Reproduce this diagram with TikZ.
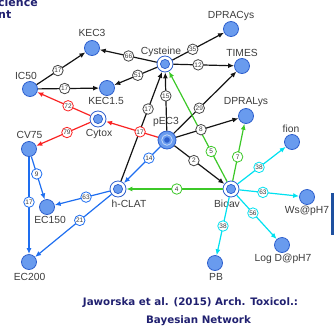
\documentclass[tikz,border=0pt]{standalone}
\usepackage{fontspec}
\setmainfont{Liberation Sans}
\newfontfamily\footfont{DejaVu Sans}
\usetikzlibrary{arrows.meta,calc}
\definecolor{nfill}{RGB}{105,155,238}
\definecolor{nborder}{RGB}{45,95,205}
\definecolor{ered}{RGB}{250,35,35}
\definecolor{eblue}{RGB}{30,110,240}
\definecolor{egreen}{RGB}{60,200,40}
\definecolor{ecyan}{RGB}{0,225,240}
\definecolor{eblack}{RGB}{20,20,20}
\definecolor{lgray}{RGB}{70,70,70}
\definecolor{txt}{RGB}{60,60,60}
\definecolor{navy}{RGB}{32,32,112}
\definecolor{barblue}{RGB}{30,80,160}
\begin{document}
\begin{tikzpicture}[x=1pt,y=-1pt,
 plain/.style={circle, draw=nborder, fill=nfill, line width=0.8pt, minimum size=15pt, inner sep=0pt},
 dbl/.style={circle, draw=nborder, fill=white, line width=0.8pt, minimum size=16pt, inner sep=0pt,
   path picture={\draw[nborder, fill=nfill, line width=0.7pt] (path picture bounding box.center) circle (4.6pt);}},
 tri/.style={circle, draw=nborder, fill=nfill, line width=0.8pt, minimum size=18pt, inner sep=0pt,
   path picture={\draw[white!60!nfill, line width=0.8pt] (path picture bounding box.center) circle (5.3pt);
                 \fill[nborder] (path picture bounding box.center) circle (2.8pt);}},
 nlab/.style={text=txt, font=\fontsize{10.3}{12}\selectfont, inner sep=0pt},
 arr/.style={line width=1.2pt, -{Latex[length=6pt,width=5pt]}},
 lbl/.style={circle, fill=white, line width=0.8pt, minimum size=10.5pt, inner sep=0pt, text=txt, font=\fontsize{6.5}{7}\selectfont},
 foot/.style={text=navy, font=\footfont\bfseries\fontsize{10.3}{12}\selectfont, inner sep=0pt},
]
\useasboundingbox (0,0) rectangle (334,327);

% nodes
\node[plain] (kec3) at (92,48) {};
\node[plain] (ic50) at (30,89) {};
\node[plain] (kec15) at (107,88) {};
\node[dbl] (cys) at (165,64) {};
\node[plain] (dpracys) at (231,29) {};
\node[plain] (times) at (242,66) {};
\node[plain] (depralys) at (246,116) {};
\node[tri] (pec3) at (167,140) {};
\node[dbl] (cytox) at (98,119) {};
\node[plain] (cv75) at (29,149) {};
\node[plain] (ec150) at (47,207) {};
\node[dbl] (hclat) at (118,189) {};
\node[plain] (ec200) at (29,262) {};
\node[dbl] (bioav) at (231,189) {};
\node[plain] (fion) at (292,142) {};
\node[plain] (ws) at (307,197) {};
\node[plain] (logd) at (282,245) {};
\node[plain] (pb) at (215,263) {};

% node labels
\node[nlab] (lkec3) at (92,33) {KEC3};
\node[nlab] (lic50) at (26,76) {IC50};
\node[nlab] (lkec15) at (106,101) {KEC1.5};
\node[nlab] (lcys) at (161,52) {Cysteine};
\node[nlab] (ldpracys) at (231,15.5) {DPRACys};
\node[nlab] (ltimes) at (242,53) {TIMES};
\node[nlab] (ldpralys) at (246,102) {DPRALys};
\node[nlab] (lpec3) at (166,122) {pEC3};
\node[nlab] (lcytox) at (99,133.5) {Cytox};
\node[nlab] (lcv75) at (29.5,135) {CV75};
\node[nlab] (lec150) at (50,220) {EC150};
\node[nlab] (lhclat) at (129,203.5) {h-CLAT};
\node[nlab] (lec200) at (29.5,277) {EC200};
\node[nlab] (lbioav) at (227,204) {Bioav};
\node[nlab] (lfion) at (291,129) {fion};
\node[nlab] (lws) at (307,211) {Ws@pH7};
\node[nlab] (llogd) at (283,259) {Log D@pH7};
\node[nlab] (lpb) at (216,277) {PB};

% edges
\draw[arr,eblack] (ic50) -- (kec3);
\draw[arr,eblack] (ic50) -- (kec15);
\draw[arr,eblack] (cys) -- (kec3);
\draw[arr,eblack] (cys) -- (kec15);
\draw[arr,eblack] (cys) -- (dpracys);
\draw[arr,eblack] (cys) -- (times);
\draw[arr,eblack] (pec3) -- (cys);
\draw[arr,eblack] (hclat) -- (cys);
\draw[arr,eblack] (pec3) -- (times);
\draw[arr,eblack] (pec3) -- (depralys);
\draw[arr,eblack] (pec3) -- (bioav);
\draw[arr,ered] (pec3) -- (cytox);
\draw[arr,ered] (cytox) -- (ic50);
\draw[arr,ered] (cytox) -- (cv75);
\draw[arr,eblue] (pec3) -- (hclat);
\draw[arr,eblue] (cv75) -- (ec150);
\draw[arr,eblue] (cv75) -- (ec200);
\draw[arr,eblue] (hclat) -- (ec150);
\draw[arr,eblue] (hclat) -- (ec200);
\draw[arr,egreen] (bioav) -- (hclat);
\draw[arr,egreen] (bioav) -- (cys);
\draw[arr,egreen] (bioav) -- (depralys);
\draw[arr,ecyan] (bioav) -- (fion);
\draw[arr,ecyan] (bioav) -- (ws);
\draw[arr,ecyan] (bioav) -- (logd);
\draw[arr,ecyan] (bioav) -- (pb);

% edge labels
\node[lbl,draw=lgray] (e1) at ($(ic50)!0.45!(kec3)$) {17};
\node[lbl,draw=lgray] (e2) at ($(ic50)!0.45!(kec15)$) {17};
\node[lbl,draw=lgray] (e3) at ($(cys)!0.5!(kec3)$) {66};
\node[lbl,draw=lgray] (e4) at ($(cys)!0.47!(kec15)$) {51};
\node[lbl,draw=lgray] (e5) at ($(cys)!0.42!(dpracys)$) {35};
\node[lbl,draw=lgray] (e6) at ($(cys)!0.43!(times)$) {12};
\node[lbl,draw=lgray] (e7) at ($(pec3)!0.58!(cys)$) {15};
\node[lbl,draw=lgray] (e8) at ($(hclat)!0.64!(cys)$) {17};
\node[lbl,draw=lgray] (e9) at ($(pec3)!0.43!(times)$) {29};
\node[lbl,draw=lgray] (e10) at ($(pec3)!0.43!(depralys)$) {8};
\node[lbl,draw=lgray] (e11) at ($(pec3)!0.42!(bioav)$) {2};
\node[lbl,draw=ered] (e12) at ($(pec3)!0.39!(cytox)$) {17};
\node[lbl,draw=ered] (e13) at ($(cytox)!0.44!(ic50)$) {72};
\node[lbl,draw=ered] (e14) at ($(cytox)!0.45!(cv75)$) {79};
\node[lbl,draw=eblue] (e15) at ($(pec3)!0.37!(hclat)$) {14};
\node[lbl,draw=eblue] (e16) at ($(cv75)!0.43!(ec150)$) {9};
\node[lbl,draw=eblue] (e17) at ($(cv75)!0.47!(ec200)$) {17};
\node[lbl,draw=eblue] (e18) at ($(hclat)!0.45!(ec150)$) {63};
\node[lbl,draw=eblue] (e19) at ($(hclat)!0.43!(ec200)$) {21};
\node[lbl,draw=egreen] (e20) at ($(bioav)!0.48!(hclat)$) {4};
\node[lbl,draw=egreen] (e21) at ($(bioav)!0.30!(cys)$) {5};
\node[lbl,draw=egreen] (e22) at ($(bioav)!0.44!(depralys)$) {7};
\node[lbl,draw=ecyan] (e23) at ($(bioav)!0.46!(fion)$) {38};
\node[lbl,draw=ecyan] (e24) at ($(bioav)!0.42!(ws)$) {63};
\node[lbl,draw=ecyan] (e25) at ($(bioav)!0.43!(logd)$) {56};
\node[lbl,draw=ecyan] (e26) at ($(bioav)!0.5!(pb)$) {38};

% footer and cut-off texts
\node[foot] (f1) at (190.5,303) {Jaworska et al. (2015) Arch. Toxicol.:};
\node[foot] (f2) at (198.5,321) {Bayesian Network};
\node[foot, anchor=base west, font=\footfont\bfseries\fontsize{11}{12}\selectfont] (t1) at (-2,6.5) {cience};
\node[foot, anchor=base west, font=\footfont\bfseries\fontsize{11}{12}\selectfont] (t2) at (-2,18) {nt};
\fill[barblue] (331,193) rectangle (334,235);
\end{tikzpicture}
\end{document}
